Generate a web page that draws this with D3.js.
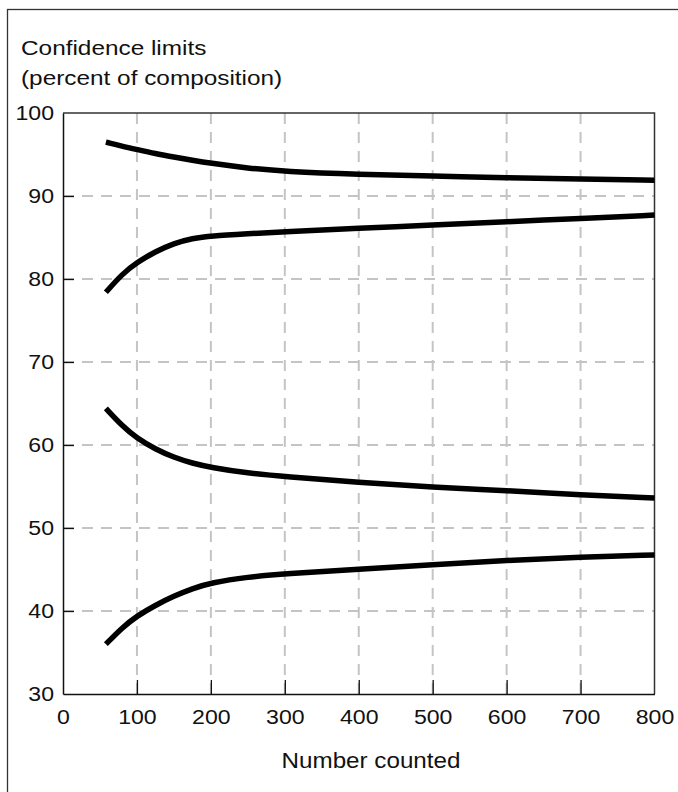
<!DOCTYPE html>
<html>
<head>
<meta charset="utf-8">
<script src="https://cdn.jsdelivr.net/npm/d3@7"></script>
<style>
  body { margin: 0; background: #fff; }
  text { font-family: "Liberation Sans", Arial, sans-serif; fill: #111; }
</style>
</head>
<body>
<div id="chart"></div>
<script>
// number counted (shared sample points for all four limit curves)
const counts   = [58, 80, 100, 125, 150, 175, 200, 250, 300, 400, 500, 600, 700, 800];
// upper pair (around 88-90 percent)
const upperHigh = [96.5, 96.0, 95.6, 95.1, 94.7, 94.3, 93.95, 93.35, 92.95, 92.6, 92.4, 92.2, 92.05, 91.9];
const upperLow  = [78.4, 80.6, 82.0, 83.3, 84.3, 84.9, 85.2, 85.45, 85.7, 86.1, 86.5, 86.9, 87.3, 87.7];
// lower pair (around 50 percent)
const lowerHigh = [64.4, 62.3, 60.8, 59.5, 58.5, 57.8, 57.3, 56.6, 56.2, 55.5, 54.9, 54.5, 54.0, 53.6];
const lowerLow  = [36.0, 38.0, 39.4, 40.7, 41.8, 42.7, 43.4, 44.1, 44.5, 45.0, 45.6, 46.1, 46.5, 46.75];

const xTicks = [0, 100, 200, 300, 400, 500, 600, 700, 800];
const yTicks = [30, 40, 50, 60, 70, 80, 90, 100];

const W = 678, H = 792;
const margin = { top: 113, right: 23, bottom: 98, left: 63 };

const svg = d3.select("#chart")
    .append("svg")
    .attr("width", W)
    .attr("height", H);

// outer frame, open to the right and bottom like the reference
svg.append("rect")
    .attr("x", 7.5).attr("y", 9.5)
    .attr("width", 720).attr("height", 820)
    .attr("fill", "none")
    .attr("stroke", "#333")
    .attr("stroke-width", 1.3);

const x = d3.scaleLinear()
    .domain([0, 800])
    .range([margin.left, W - margin.right - 0.5]);

const y = d3.scaleLinear()
    .domain([30, 100])
    .range([H - margin.bottom, margin.top]);

// dashed grid
const grid = svg.append("g")
    .attr("stroke", "#c4c4c4")
    .attr("stroke-width", 2)
    .attr("stroke-dasharray", "11,8");

grid.selectAll("line.v")
    .data(xTicks.filter(d => d > 0 && d < 800))
    .join("line")
    .attr("class", "v")
    .attr("x1", d => x(d)).attr("x2", d => x(d))
    .attr("y1", y(100)).attr("y2", y(30));

grid.selectAll("line.h")
    .data(yTicks.filter(d => d > 30 && d < 100))
    .join("line")
    .attr("class", "h")
    .attr("x1", x(0)).attr("x2", x(800))
    .attr("y1", d => y(d)).attr("y2", d => y(d));

// top and right border of the plot
svg.append("path")
    .attr("d", `M${x(0)},${y(100)}H${x(800)}V${y(30)}`)
    .attr("fill", "none")
    .attr("stroke", "#333")
    .attr("stroke-width", 1.5);

const sx = 1.1;

const xAxis = g => g
    .attr("transform", `translate(0,${y(30)})`)
    .call(d3.axisBottom(x).tickValues(xTicks).tickSizeInner(-14).tickSizeOuter(0).tickPadding(15))
    .call(g => g.select(".domain").attr("stroke", "#111").attr("stroke-width", 1.5))
    .call(g => g.selectAll(".tick line").attr("stroke", "#111").attr("stroke-width", 1.3)
        .filter(d => d === 0 || d === 800).remove())
    .call(g => g.selectAll(".tick text")
        .attr("font-size", 21)
        .attr("fill", "#111")
        .attr("transform", `scale(${sx},1)`));

const yAxis = g => g
    .attr("transform", `translate(${x(0)},0)`)
    .call(d3.axisLeft(y).tickValues(yTicks).tickSizeInner(-11).tickSizeOuter(0).tickPadding(10))
    .call(g => g.select(".domain").attr("stroke", "#111").attr("stroke-width", 1.5))
    .call(g => g.selectAll(".tick line").attr("stroke", "#111").attr("stroke-width", 1.3)
        .filter(d => d === 30 || d === 100).remove())
    .call(g => g.selectAll(".tick text")
        .attr("font-size", 21)
        .attr("fill", "#111")
        .attr("x", -9 / sx)
        .attr("transform", `scale(${sx},1)`));

svg.append("g").call(xAxis);
svg.append("g").call(yAxis);

// curves
const line = d3.line()
    .x(d => x(d[0]))
    .y(d => y(d[1]))
    .curve(d3.curveBasis);

[upperHigh, upperLow, lowerHigh, lowerLow].forEach(vals => {
    svg.append("path")
        .datum(counts.map((c, i) => [c, vals[i]]))
        .attr("d", line)
        .attr("fill", "none")
        .attr("stroke", "#000")
        .attr("stroke-width", 5.5);
});

// labels
function label(txt, px, py, size, scale, anchor) {
    svg.append("text")
        .attr("transform", `translate(${px},${py}) scale(${scale},1)`)
        .attr("font-size", size)
        .attr("text-anchor", anchor || "start")
        .text(txt);
}

label("Confidence limits", 21, 55, 21, 1.16);
label("(percent of composition)", 21, 85, 21, 1.16);
label("Number counted", 371, 768, 22, 1.1, "middle");
</script>
</body>
</html>
